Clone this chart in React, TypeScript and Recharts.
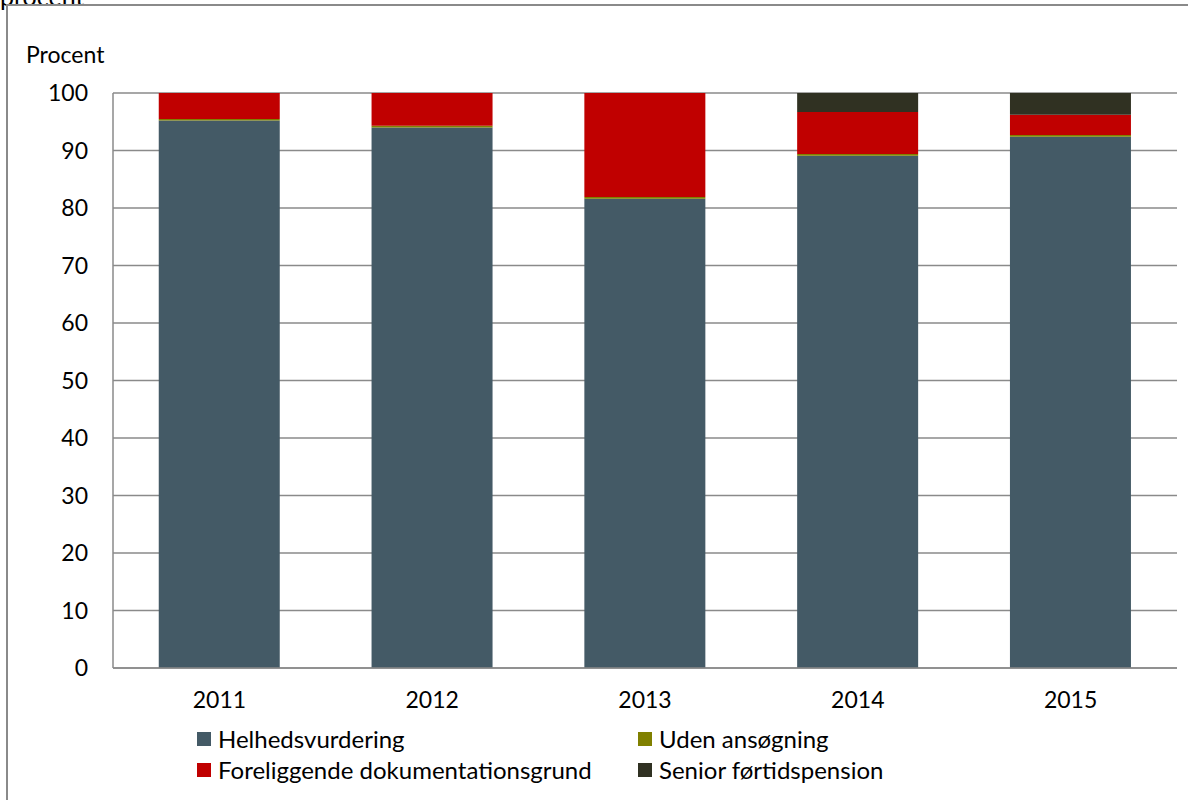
import { BarChart, Bar, XAxis, YAxis, CartesianGrid } from 'recharts';

const years = ['2011', '2012', '2013', '2014', '2015'];
const helhedsvurdering = [95.2, 94.0, 81.6, 89.1, 92.4];
const udenAnsoegning = [0.3, 0.3, 0.3, 0.3, 0.3];
const foreliggende = [4.5, 5.7, 18.1, 7.3, 3.5];
const senior = [0, 0, 0, 3.3, 3.8];
const yTicks = [0, 10, 20, 30, 40, 50, 60, 70, 80, 90, 100];

const series = [
  { key: 'helhed', name: 'Helhedsvurdering', color: '#445A66' },
  { key: 'uden', name: 'Uden ansøgning', color: '#808000' },
  { key: 'forelig', name: 'Foreliggende dokumentationsgrund', color: '#C00000' },
  { key: 'senior', name: 'Senior førtidspension', color: '#303122' },
];

const data = years.map((year, i) => ({
  year,
  helhed: helhedsvurdering[i],
  uden: udenAnsoegning[i],
  forelig: foreliggende[i],
  senior: senior[i],
}));

// legend order in the picture: Helheds, Uden / Foreliggende, Senior
const legendPos = [
  { left: 197, top: 725 },
  { left: 638, top: 725 },
  { left: 197, top: 756 },
  { left: 638, top: 756 },
];

const font = 'Lato, "Open Sans", sans-serif';
const gray = '#8a8a8a';

export default function App() {
  return (
    <div
      style={{
        position: 'absolute',
        left: 0,
        top: 0,
        width: 1188,
        height: 800,
        overflow: 'hidden',
        background: '#fff',
        fontFamily: font,
      }}
    >
      {/* cut-off title at the very top */}
      <div style={{ position: 'absolute', left: 0, top: -16, fontSize: 25, lineHeight: '24px', color: '#000' }}>
        procent
      </div>
      {/* chart frame */}
      <div
        style={{
          position: 'absolute',
          left: 6,
          top: 4,
          width: 1300,
          height: 900,
          border: `2px solid ${gray}`,
          boxSizing: 'border-box',
        }}
      />
      <div style={{ position: 'absolute', left: 26, top: 40, fontSize: 23, lineHeight: '28px', color: '#000' }}>
        Procent
      </div>

      <div style={{ position: 'absolute', left: 0, top: 0 }}>
        <BarChart
          width={1188}
          height={800}
          data={data}
          margin={{ top: 93, right: 11, left: 0, bottom: 92 }}
          barCategoryGap="21.5%"
        >
          <CartesianGrid vertical={false} stroke={gray} strokeWidth={1.5} />
          <XAxis
            dataKey="year"
            tickLine={false}
            axisLine={{ stroke: gray, strokeWidth: 1.5 }}
            tickSize={0}
            tickMargin={24}
            height={40}
            tick={{ fill: '#000', fontSize: 23, fontFamily: font }}
          />
          <YAxis
            domain={[0, 100]}
            ticks={yTicks}
            interval={0}
            width={113}
            tickLine={false}
            axisLine={{ stroke: gray, strokeWidth: 1.5 }}
            tickSize={0}
            tickMargin={25}
            tick={{ fill: '#000', fontSize: 23, fontFamily: font }}
          />
          {series.map((s) => (
            <Bar
              key={s.key}
              dataKey={s.key}
              name={s.name}
              stackId="a"
              fill={s.color}
              isAnimationActive={false}
            />
          ))}
        </BarChart>
      </div>

      {series.map((s, i) => (
        <div
          key={s.key}
          style={{
            position: 'absolute',
            left: legendPos[i].left,
            top: legendPos[i].top,
            display: 'flex',
            alignItems: 'center',
            fontSize: 24,
            lineHeight: '28px',
            color: '#000',
            whiteSpace: 'nowrap',
          }}
        >
          <span style={{ display: 'inline-block', width: 14, height: 14, background: s.color, marginRight: 7 }} />
          {s.name}
        </div>
      ))}
    </div>
  );
}
